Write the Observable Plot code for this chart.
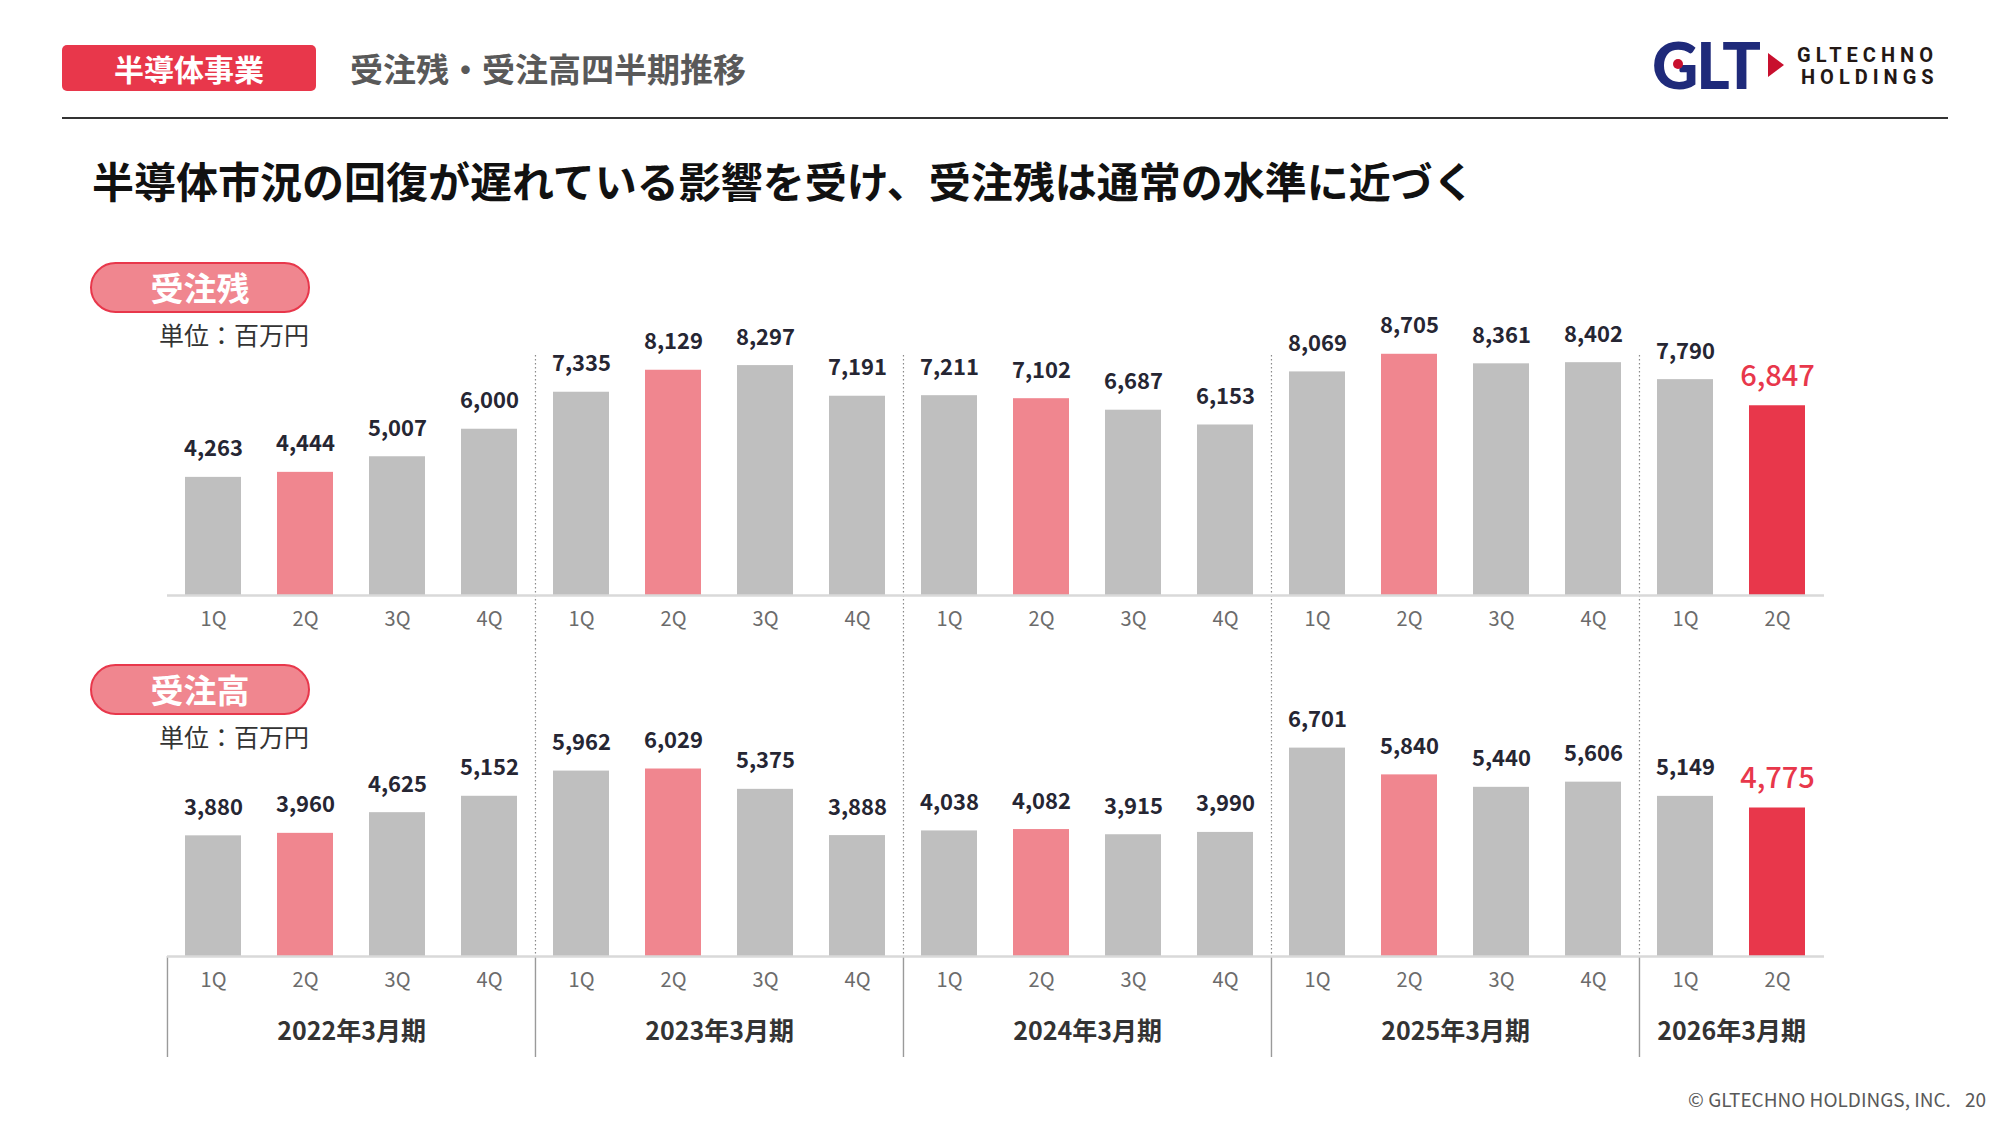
<!DOCTYPE html>
<html><head><meta charset="utf-8">
<script src="https://cdn.jsdelivr.net/npm/d3@7"></script>
<script src="https://cdn.jsdelivr.net/npm/@observablehq/plot@0.6"></script>
<style>
html,body{margin:0;padding:0;background:#fff;}
#page{position:relative;width:2001px;height:1125px;overflow:hidden;font-family:"Noto Sans CJK JP","Noto Sans",sans-serif;background:#fff;}
.abs{position:absolute;white-space:nowrap;}
.tag{left:62px;top:45px;width:254px;height:46px;background:#E8374B;border-radius:5px;color:#fff;font-size:30px;font-weight:700;line-height:46px;text-align:center;}
.title{left:350px;top:43px;font-size:33px;font-weight:700;color:#595959;line-height:50px;}
.hr{left:62px;top:117px;width:1886px;height:2px;background:#333;}
.headline{left:92px;top:150px;font-size:42px;font-weight:700;color:#111;line-height:60px;}
.pill{left:90px;width:220px;height:51px;box-sizing:border-box;border:2.5px solid #E8374B;background:#F0868F;border-radius:26px;color:#fff;font-size:33px;font-weight:700;line-height:46px;text-align:center;}
.unit{left:159px;font-size:25px;color:#333;line-height:36px;}
.footer{right:15px;top:1086px;font-size:19px;color:#595959;line-height:26px;}
.glt{left:1652px;top:33px;font-family:Lato,Roboto,sans-serif;font-weight:900;font-size:64px;line-height:64px;color:#1F2A7A;letter-spacing:-2px;}
.gdot{left:1673px;top:59px;width:10px;height:10px;border-radius:50%;background:#C8102E;}
.tri{left:1768px;top:53px;width:0;height:0;border-left:16px solid #C8102E;border-top:12px solid transparent;border-bottom:12px solid transparent;}
.lt{font-family:Roboto,"Noto Sans",sans-serif;font-weight:700;font-size:20px;color:#231815;letter-spacing:5px;line-height:24px;}
.chart{position:absolute;left:0;}
</style></head><body>
<div id="page">
  <div class="abs tag">半導体事業</div>
  <div class="abs title">受注残・受注高四半期推移</div>
  <div class="abs glt">GLT</div>
  <div class="abs gdot"></div>
  <div class="abs tri"></div>
  <div class="abs lt" style="left:1797px;top:43px;">GLTECHNO</div>
  <div class="abs lt" style="left:1801px;top:65px;">HOLDINGS</div>
  <div class="abs hr"></div>
  <div class="abs headline">半導体市況の回復が遅れている影響を受け、受注残は通常の水準に近づく</div>
  <div id="top" class="chart" style="top:260px;"></div>
  <div id="bottom" class="chart" style="top:640px;"></div>
  <div class="abs pill" style="top:262px;">受注残</div>
  <div class="abs unit" style="top:316px;">単位：百万円</div>
  <div class="abs pill" style="top:664px;">受注高</div>
  <div class="abs unit" style="top:718px;">単位：百万円</div>
  <div class="abs footer">© GLTECHNO HOLDINGS, INC.<span style="margin-left:14px;">20</span></div>
</div>
<script>
const fiscalYears = ["2022年3月期", "2023年3月期", "2024年3月期", "2025年3月期", "2026年3月期"];
const quarterNames = ["1Q", "2Q", "3Q", "4Q"];
const quartersPerYear = [4, 4, 4, 4, 2];
const highlightQuarter = "2Q";
// 受注残 (order backlog), 百万円
const backlog = [4263, 4444, 5007, 6000, 7335, 8129, 8297, 7191, 7211, 7102, 6687, 6153, 8069, 8705, 8361, 8402, 7790, 6847];
// 受注高 (orders received), 百万円
const orders = [3880, 3960, 4625, 5152, 5962, 6029, 5375, 3888, 4038, 4082, 3915, 3990, 6701, 5840, 5440, 5606, 5149, 4775];

const keys = [];
const meta = [];
fiscalYears.forEach((fy, yi) => {
  for (let q = 0; q < quartersPerYear[yi]; q++) {
    keys.push(fy + "|" + quarterNames[q]);
    meta.push({fy, yi, q: quarterNames[q]});
  }
});
const lastIndex = keys.length - 1;
function rowsFor(values) {
  return values.map((v, i) => ({
    key: keys[i], value: v, q: meta[i].q,
    kind: i === lastIndex ? "latest" : (meta[i].q === highlightQuarter ? "highlight" : "base")
  }));
}
const yearStartKeys = keys.filter((k, i) => meta[i].q === "1Q");
const innerStartKeys = yearStartKeys.slice(1);
const yearLabelRows = fiscalYears.map((fy, yi) => ({fy, anchor: fy + "|" + quarterNames[quartersPerYear[yi] / 2 - 1]}));

const W = 2001, ML = 167, MR = 177;
const halfStep = (W - ML - MR) / keys.length / 2;
const fmt = d3.format(",");
const colorScale = {domain: ["base", "highlight", "latest"], range: ["#BFBFBF", "#F0868F", "#E8374B"]};
const xScale = {type: "band", domain: keys, paddingInner: 0.39, paddingOuter: 0.195, label: null};
const styleBase = {fontFamily: "'Noto Sans CJK JP','Noto Sans',sans-serif", fontSize: "20px", color: "#6b6b6b", overflow: "visible", background: "transparent"};

function valueMarks(rows) {
  return [
    Plot.barY(rows, {x: "key", y: "value", fill: "kind"}),
    Plot.text(rows.filter(d => d.kind !== "latest"), {x: "key", y: "value", text: d => fmt(d.value), lineAnchor: "bottom", dy: -21, fontSize: 22, fontWeight: 700, fill: "#262633"}),
    Plot.text(rows.filter(d => d.kind === "latest"), {x: "key", y: "value", text: d => fmt(d.value), lineAnchor: "bottom", dy: -20, fontSize: 29, fontWeight: 500, fill: "#E8374B"})
  ];
}

// Top chart: 受注残
const topRows = rowsFor(backlog);
const topChart = Plot.plot({
  width: W, height: 380,
  marginLeft: ML, marginRight: MR, marginTop: 95, marginBottom: 45,
  style: styleBase,
  x: xScale,
  y: {domain: [0, 8661], axis: null},
  color: colorScale,
  marks: [
    Plot.ruleX(innerStartKeys, {x: d => d, dx: -halfStep, stroke: "#8a8a8a", strokeWidth: 1.2, strokeDasharray: "1.5,2.5", insetBottom: -45}),
    ...valueMarks(topRows),
    Plot.ruleY([0], {stroke: "#D9D9D9", strokeWidth: 2.5}),
    Plot.axisX({tickSize: 0, tickPadding: 16, tickFormat: k => k.split("|")[1], label: null})
  ]
});
document.getElementById("top").appendChild(topChart);

// Bottom chart: 受注高
const botRows = rowsFor(orders);
const BH = 417, BMB = 101;
const bottomChart = Plot.plot({
  width: W, height: BH,
  marginLeft: ML, marginRight: MR, marginTop: 0, marginBottom: BMB,
  style: styleBase,
  x: xScale,
  y: {domain: [0, 10161], axis: null},
  color: colorScale,
  marks: [
    Plot.ruleX(innerStartKeys, {x: d => d, dx: -halfStep, stroke: "#8a8a8a", strokeWidth: 1.2, strokeDasharray: "1.5,2.5"}),
    Plot.ruleX(yearStartKeys, {x: d => d, dx: -halfStep, stroke: "#9a9a9a", strokeWidth: 1.4, insetTop: BH - BMB, insetBottom: -BMB}),
    ...valueMarks(botRows),
    Plot.ruleY([0], {stroke: "#D9D9D9", strokeWidth: 2.5}),
    Plot.axisX({tickSize: 0, tickPadding: 16, tickFormat: k => k.split("|")[1], label: null}),
    Plot.text(yearLabelRows, {x: "anchor", text: "fy", frameAnchor: "bottom", dx: halfStep, dy: 83, fontSize: 25, fontWeight: 700, fill: "#333"})
  ]
});
document.getElementById("bottom").appendChild(bottomChart);
</script>
</body></html>
